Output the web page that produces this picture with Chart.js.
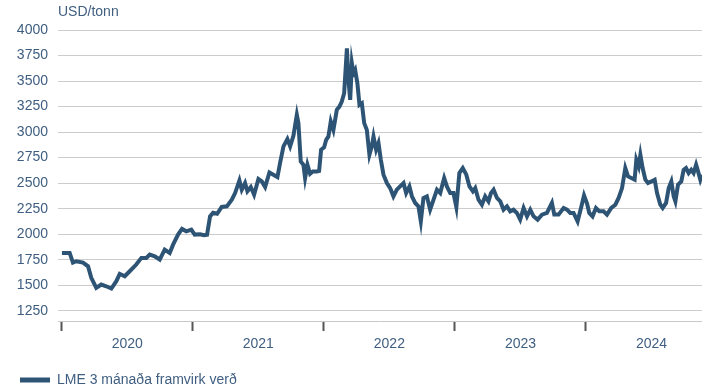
<!DOCTYPE html>
<html>
<head>
<meta charset="utf-8">
<script src="https://cdn.jsdelivr.net/npm/chart.js@4.4.1/dist/chart.umd.min.js"></script>
<style>
  html, body { margin: 0; padding: 0; background: #fff; }
  #wrap { position: relative; width: 702px; height: 390px; }
</style>
</head>
<body>
<div id="wrap"><canvas id="myChart"></canvas></div>
<script>
// LME ál, 3 mánaða framvirkt verð (USD/tonn), tími í árum
const dates = [
  2020.002, 2020.061, 2020.086, 2020.111, 2020.163, 2020.201, 2020.226, 2020.264, 2020.302, 2020.340,
  2020.379, 2020.417, 2020.443, 2020.481, 2020.519, 2020.569, 2020.608, 2020.646, 2020.672, 2020.710,
  2020.748, 2020.786, 2020.824, 2020.850, 2020.888, 2020.918, 2020.951, 2020.989, 2021.015, 2021.056,
  2021.086, 2021.109, 2021.132, 2021.155, 2021.186, 2021.221, 2021.260, 2021.298, 2021.323, 2021.356,
  2021.374, 2021.399, 2021.417, 2021.443, 2021.468, 2021.501, 2021.527, 2021.552, 2021.585, 2021.615,
  2021.646, 2021.666, 2021.692, 2021.722, 2021.743, 2021.768, 2021.794, 2021.806, 2021.824, 2021.844,
  2021.857, 2021.875, 2021.895, 2021.916, 2021.947, 2021.964, 2021.979, 2022.002, 2022.018, 2022.035,
  2022.053, 2022.073, 2022.099, 2022.119, 2022.137, 2022.155, 2022.176, 2022.188, 2022.201, 2022.214,
  2022.226, 2022.239, 2022.256, 2022.272, 2022.290, 2022.308, 2022.328, 2022.348, 2022.366, 2022.379,
  2022.399, 2022.417, 2022.435, 2022.455, 2022.481, 2022.506, 2022.531, 2022.557, 2022.582, 2022.608,
  2022.628, 2022.653, 2022.672, 2022.697, 2022.722, 2022.740, 2022.760, 2022.786, 2022.811, 2022.837,
  2022.863, 2022.888, 2022.918, 2022.939, 2022.964, 2022.989, 2023.011, 2023.034, 2023.060, 2023.087,
  2023.111, 2023.137, 2023.155, 2023.180, 2023.206, 2023.231, 2023.256, 2023.275, 2023.295, 2023.321,
  2023.346, 2023.371, 2023.397, 2023.422, 2023.447, 2023.473, 2023.498, 2023.524, 2023.550, 2023.575,
  2023.600, 2023.631, 2023.664, 2023.702, 2023.740, 2023.758, 2023.791, 2023.829, 2023.855, 2023.880,
  2023.905, 2023.936, 2023.962, 2023.985, 2024.008, 2024.025, 2024.050, 2024.076, 2024.102, 2024.134,
  2024.160, 2024.193, 2024.224, 2024.249, 2024.275, 2024.300, 2024.321, 2024.346, 2024.371, 2024.384,
  2024.402, 2024.415, 2024.432, 2024.453, 2024.473, 2024.499, 2024.524, 2024.542, 2024.567, 2024.585,
  2024.611, 2024.631, 2024.651, 2024.669, 2024.682, 2024.702, 2024.727, 2024.745, 2024.763, 2024.783,
  2024.803, 2024.821, 2024.840, 2024.855, 2024.872, 2024.885
];
const prices = [
  1817, 1817, 1722, 1735, 1722, 1686, 1573, 1475, 1507, 1490,
  1468, 1540, 1612, 1588, 1637, 1703, 1768, 1768, 1800, 1784,
  1752, 1849, 1817, 1898, 1996, 2052, 2028, 2045, 1996, 2000,
  1990, 1995, 2175, 2210, 2200, 2267, 2273, 2338, 2403, 2527,
  2436, 2501, 2420, 2462, 2387, 2540, 2517, 2462, 2605, 2583,
  2560, 2697, 2860, 2932, 2860, 2964, 3170, 3088, 2713, 2680,
  2550, 2680, 2592, 2615, 2615, 2620, 2827, 2850, 2925, 2957,
  3104, 3022, 3218, 3250, 3299, 3381, 3821, 3511, 3316, 3674,
  3577, 3609, 3479, 3267, 3283, 3088, 3022, 2778, 2860, 2957,
  2827, 2892, 2729, 2583, 2501, 2452, 2371, 2436, 2468, 2501,
  2403, 2468, 2371, 2306, 2273, 2126, 2355, 2371, 2240, 2338,
  2436, 2403, 2550, 2468, 2403, 2403, 2265, 2599, 2648, 2583,
  2468, 2420, 2452, 2338, 2289, 2371, 2322, 2403, 2436, 2355,
  2322, 2240, 2273, 2224, 2240, 2208, 2143, 2257, 2175, 2240,
  2175, 2143, 2192, 2208, 2306, 2192, 2192, 2257, 2240, 2208,
  2208, 2126, 2257, 2380, 2300, 2208, 2175, 2257, 2224, 2224,
  2192, 2257, 2289, 2355, 2452, 2648, 2566, 2550, 2534, 2729,
  2664, 2778, 2648, 2534, 2501, 2517, 2534, 2403, 2289, 2257,
  2306, 2452, 2517, 2371, 2322, 2485, 2517, 2631, 2648, 2599,
  2631, 2599, 2680, 2615, 2534, 2583
];
const years = [2020, 2021, 2022, 2023, 2024];
const yTicks = [1250, 1500, 1750, 2000, 2250, 2500, 2750, 3000, 3250, 3500, 3750, 4000];
const seriesName = 'LME 3 mánaða framvirk verð';
const unitLabel = 'USD/tonn';

const lineColor = '#2e5475';
const textColor = '#3f5e80';
const fontFamily = "'Liberation Sans', Arial, sans-serif";

const ctx = document.querySelector('#myChart').getContext('2d');

const unitPlugin = {
  id: 'unitLabel',
  afterDraw: (chart) => {
    const c = chart.ctx;
    c.save();
    c.font = '14px ' + fontFamily;
    c.fillStyle = textColor;
    c.textBaseline = 'middle';
    c.textAlign = 'left';
    c.fillText(unitLabel, chart.chartArea.left, 12);
    c.restore();
  }
};

// ár-merki í miðju hvers árs, strik á áramótum
const xTicks = [];
years.forEach(y => { xTicks.push(y); xTicks.push(y + 0.5); });

const config = {
  type: 'line',
  data: {
    datasets: [{
      label: seriesName,
      data: dates.map((d, i) => ({ x: d, y: prices[i] })),
      borderColor: lineColor,
      backgroundColor: lineColor,
      borderWidth: 4,
      pointRadius: 0,
      tension: 0,
      fill: false
    }]
  },
  plugins: [unitPlugin],
  options: {
    responsive: true,
    maintainAspectRatio: false,
    animation: false,
    layout: { padding: { top: 30, left: 10, right: 0, bottom: 0 } },
    scales: {
      x: {
        type: 'linear',
        min: 2019.972,
        max: 2024.885,
        afterBuildTicks: (scale) => { scale.ticks = xTicks.map(v => ({ value: v })); },
        afterFit: (scale) => { scale.height = 42; },
        grid: {
          drawOnChartArea: false,
          tickLength: 10,
          tickWidth: 2,
          tickColor: (c) => (c.tick && c.tick.value % 1 === 0) ? '#555555' : 'rgba(0,0,0,0)'
        },
        border: { color: '#c8c8c8', width: 1 },
        ticks: {
          autoSkip: false,
          maxRotation: 0,
          padding: 5,
          color: textColor,
          font: { family: fontFamily, size: 14 },
          callback: (v) => (v % 1 !== 0) ? String(Math.floor(v)) : ''
        }
      },
      y: {
        min: 1150,
        max: 4000,
        afterBuildTicks: (scale) => { scale.ticks = yTicks.map(v => ({ value: v })); },
        afterFit: (scale) => { scale.width = 48; },
        grid: { color: '#cccccc', lineWidth: 1, drawTicks: false },
        border: { display: false },
        ticks: {
          padding: 10,
          color: textColor,
          font: { family: fontFamily, size: 14 },
          callback: (v) => String(v)
        }
      }
    },
    plugins: {
      legend: {
        position: 'bottom',
        align: 'start',
        maxHeight: 27,
        labels: {
          boxWidth: 30,
          boxHeight: 5,
          padding: 10,
          color: textColor,
          font: { family: fontFamily, size: 14 },
          generateLabels: (chart) => Chart.defaults.plugins.legend.labels.generateLabels(chart)
            .map(item => Object.assign(item, { lineWidth: 0 }))
        }
      },
      tooltip: { enabled: false }
    }
  }
};

const myChart = new Chart(ctx, config);
</script>
</body>
</html>
